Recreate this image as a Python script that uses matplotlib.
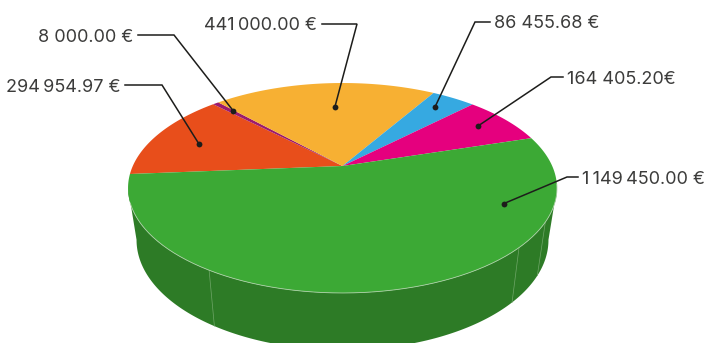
import numpy as np
import matplotlib; matplotlib.use("Agg")
import matplotlib.pyplot as plt
from matplotlib.patches import Polygon

plt.rcParams["font.family"] = ["Inter", "DejaVu Sans"]

values = [294954.97, 8000.00, 441000.00, 86455.68, 164405.20, 1149450.00]
labels = ["294\u2009954.97 \u20ac", "8 000.00 \u20ac", "441\u2009000.00 \u20ac",
          "86 455.68 \u20ac", "164 405.20\u20ac", "1\u2009149\u2009450.00 \u20ac"]
colors = ["#E84E1B", "#9B1B6E", "#F7B033", "#36A9E1", "#E5007E", "#3CA935"]
SIDE = "#2D7B26"

START = 265.5                # where the first slice starts, clockwise from the back
MIN_DEG = 2.0                # thin slices stay visible
CX, CY = 342.5, 166.0        # apex of the slices in pixels
K, A, C = -0.2095, 65.6, 209.7   # perspective of the disc
SEAMS = [211.5, 134.0, 120.0]

# leader lines in pixels: text end, elbow, dot
leaders = [((125, 85), (162, 85), (199, 144)),
           ((138, 35), (174, 35), (233, 110.5)),
           ((322, 24), (357, 24), (335, 106.5)),
           ((490, 22), (475, 22), (435, 107)),
           ((563, 77), (551, 77), (478, 126)),
           ((578, 177), (567, 177), (504, 203.5))]


def top_xy(deg):
    """Project disc angles (clockwise from the back) to pixels."""
    t = np.radians(deg)
    u, v = np.sin(t), -np.cos(t)
    w = 1 + K * v
    return CX + C * u / w, (A * v + CY) / w


def bottom_xy(deg):
    x, y = top_xy(deg)
    return 342.5 + (x - 342.5) * 206 / 214.5, 240 + (y - 188) * 110 / 105


fig = plt.figure(figsize=(7.14, 3.43), dpi=100)
ax = fig.add_axes([0, 0, 1, 1])
ax.set_xlim(0, 714); ax.set_ylim(343, 0); ax.axis("off")

# side wall, between the two silhouette points of the rim
ring = np.linspace(102, 258, 300)
tx, ty = top_xy(ring)
bx, by = bottom_xy(ring)
ax.add_patch(Polygon(np.r_[np.c_[tx, ty], np.c_[bx, by][::-1]], fc=SIDE, ec="none", zorder=1))
for s in SEAMS:
    x0, y0 = top_xy(s); x1, y1 = bottom_xy(s)
    ax.plot([x0, x1], [y0, y1], color="#6FA668", lw=0.5, zorder=2)

# top face
deg = np.maximum(np.array(values) / np.sum(values) * 360, MIN_DEG)
deg = deg * 360 / deg.sum()
edges = START + np.r_[0, np.cumsum(deg)]
for i, col in enumerate(colors):
    a = np.linspace(edges[i], edges[i + 1], 200)
    x, y = top_xy(a)
    ax.add_patch(Polygon(np.r_[[[CX, CY]], np.c_[x, y]], fc=col, ec="none", zorder=3))
a = np.linspace(100, 250, 200)
ax.plot(*top_xy(a), color="#A9CFA4", lw=0.6, zorder=3)

for lab, (p0, p1, p2) in zip(labels, leaders):
    ax.plot([p0[0], p1[0], p2[0]], [p0[1], p1[1], p2[1]], color="#1D1D1B", lw=1.1,
            solid_joinstyle="miter", zorder=4)
    ax.plot(*p2, "o", color="#1D1D1B", ms=4.2, mew=0, zorder=5)
    right = p0[0] > p1[0]
    ax.text(p0[0] + 4 if right else p0[0] - 5, p0[1], lab,
            ha="left" if right else "right", va="center_baseline", fontsize=13, color="#3C3C3B", zorder=5)

fig.savefig("out.png", dpi=100)
